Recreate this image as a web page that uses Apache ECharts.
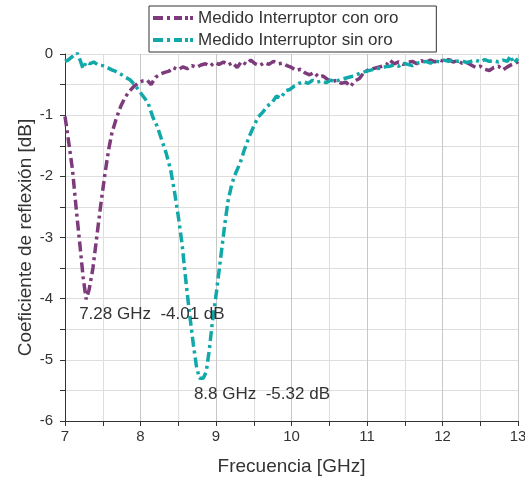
<!DOCTYPE html>
<html>
<head>
<meta charset="utf-8">
<script src="https://cdn.jsdelivr.net/npm/echarts@6/dist/echarts.min.js"></script>
<style>html,body{margin:0;padding:0;background:#fff;}#c{width:525px;height:482px;}</style>
</head>
<body>
<div id="c"></div>
<script>
// Series names
const seriesNames = ['Medido Interruptor con oro', 'Medido Interruptor sin oro'];
// Axis ticks
const xTicks = [7, 8, 9, 10, 11, 12, 13];
const yTicks = [-6, -5, -4, -3, -2, -1, 0];

// Medido Interruptor con oro
const conOroFreq = [7.00,7.05,7.10,7.15,7.20,7.24,7.28,7.32,7.37,7.42,7.47,7.53,7.58,7.62,7.68,7.74,7.80,7.86,7.92,7.98,8.03,8.09,8.14,8.20,8.26,8.32,8.38,8.43,8.50,8.56,8.62,8.68,8.74,8.80,8.86,8.92,8.98,9.04,9.10,9.16,9.22,9.28,9.34,9.40,9.46,9.52,9.58,9.64,9.70,9.76,9.82,9.88,9.94,10.00,10.06,10.12,10.18,10.24,10.30,10.36,10.42,10.48,10.54,10.60,10.66,10.72,10.78,10.84,10.90,10.96,11.02,11.08,11.14,11.20,11.26,11.30,11.36,11.42,11.48,11.54,11.60,11.66,11.72,11.78,11.84,11.90,11.96,12.02,12.08,12.14,12.20,12.26,12.32,12.38,12.44,12.50,12.56,12.62,12.68,12.74,12.80,12.86,12.92,12.98,13.00];
const conOroDb = [-1.02,-1.45,-1.90,-2.55,-3.15,-3.65,-4.01,-3.85,-3.50,-3.00,-2.50,-1.95,-1.55,-1.30,-1.05,-0.85,-0.70,-0.60,-0.52,-0.47,-0.44,-0.43,-0.50,-0.38,-0.33,-0.30,-0.28,-0.22,-0.26,-0.21,-0.24,-0.19,-0.22,-0.18,-0.16,-0.20,-0.14,-0.17,-0.13,-0.18,-0.14,-0.22,-0.12,-0.17,-0.10,-0.16,-0.19,-0.14,-0.17,-0.12,-0.16,-0.15,-0.19,-0.22,-0.27,-0.25,-0.31,-0.34,-0.30,-0.38,-0.36,-0.42,-0.45,-0.43,-0.48,-0.46,-0.53,-0.44,-0.40,-0.30,-0.26,-0.24,-0.22,-0.20,-0.17,-0.10,-0.16,-0.13,-0.17,-0.14,-0.12,-0.16,-0.11,-0.14,-0.10,-0.13,-0.10,-0.12,-0.09,-0.13,-0.11,-0.15,-0.14,-0.18,-0.22,-0.20,-0.25,-0.27,-0.22,-0.20,-0.26,-0.21,-0.17,-0.14,-0.12];

// Medido Interruptor sin oro
const sinOroFreq = [7.00,7.04,7.08,7.12,7.16,7.20,7.24,7.28,7.33,7.38,7.44,7.50,7.56,7.62,7.68,7.74,7.80,7.86,7.92,7.98,8.04,8.10,8.16,8.22,8.28,8.34,8.40,8.45,8.50,8.55,8.60,8.65,8.70,8.74,8.78,8.80,8.83,8.87,8.91,8.95,9.00,9.04,9.08,9.12,9.16,9.21,9.26,9.32,9.38,9.44,9.50,9.56,9.62,9.68,9.74,9.80,9.86,9.92,9.98,10.04,10.10,10.16,10.22,10.28,10.34,10.40,10.46,10.52,10.58,10.64,10.70,10.76,10.82,10.88,10.94,11.00,11.06,11.12,11.18,11.24,11.30,11.36,11.42,11.48,11.54,11.60,11.66,11.72,11.78,11.84,11.90,11.96,12.02,12.08,12.14,12.20,12.26,12.32,12.38,12.44,12.50,12.56,12.62,12.68,12.74,12.80,12.86,12.90,12.94,12.98,13.00];
const sinOroDb = [-0.12,-0.10,-0.06,-0.02,0.02,-0.10,-0.24,-0.13,-0.16,-0.13,-0.18,-0.19,-0.22,-0.26,-0.29,-0.33,-0.38,-0.42,-0.50,-0.60,-0.70,-0.80,-1.02,-1.18,-1.40,-1.62,-1.90,-2.25,-2.65,-3.10,-3.70,-4.25,-4.75,-5.10,-5.30,-5.32,-5.30,-5.20,-4.85,-4.40,-3.95,-3.55,-3.15,-2.75,-2.40,-2.12,-1.95,-1.78,-1.55,-1.35,-1.18,-1.03,-0.95,-0.85,-0.80,-0.69,-0.72,-0.60,-0.58,-0.52,-0.48,-0.45,-0.48,-0.43,-0.46,-0.44,-0.47,-0.43,-0.45,-0.42,-0.40,-0.38,-0.36,-0.33,-0.30,-0.28,-0.26,-0.24,-0.23,-0.21,-0.20,-0.18,-0.20,-0.15,-0.17,-0.19,-0.15,-0.14,-0.12,-0.15,-0.11,-0.13,-0.10,-0.12,-0.09,-0.12,-0.11,-0.14,-0.12,-0.10,-0.13,-0.09,-0.12,-0.11,-0.13,-0.10,-0.12,-0.03,-0.15,-0.10,-0.08];

// Annotated minima
const minConOro = [7.28, -4.01];
const minSinOro = [8.8, -5.32];
const minConLabel = '7.28 GHz  -4.01 dB';
const minSinLabel = '8.8 GHz  -5.32 dB';

const colors = ['#7E3B7B', '#10A8A8'];
const font = 'Liberation Sans, Arial, sans-serif';
const dashPattern = [10, 4, 3, 4];
// dash-dot legend glyph (40 x 4)
const legendGlyph = 'path://M0,0h10v4h-10z M14,0h3v4h-3z M21,0h8v4h-8z M32,0h3v4h-3z M37,0h3v4h-3z';

function pairs(xs, ys) { return xs.map((x, i) => [x, ys[i]]); }

const chart = echarts.init(document.getElementById('c'), null, {renderer: 'canvas'});
chart.setOption({
  animation: false,
  backgroundColor: '#fff',
  textStyle: {fontFamily: font},
  legend: {
    orient: 'vertical',
    left: 149, top: 6,
    padding: [3, 38, 3, 4],
    itemWidth: 40, itemHeight: 4, itemGap: 4,
    symbolKeepAspect: false,
    borderColor: '#333', borderWidth: 1,
    textStyle: {fontSize: 17, color: '#333', fontFamily: font, lineHeight: 18, height: 18},
    data: [
      {name: seriesNames[0], icon: legendGlyph, itemStyle: {color: colors[0]}},
      {name: seriesNames[1], icon: legendGlyph, itemStyle: {color: colors[1]}}
    ]
  },
  grid: {left: 65, right: 7, top: 54, bottom: 61, containLabel: false, outerBoundsMode: 'none'},
  xAxis: {
    type: 'value', min: xTicks[0], max: xTicks[xTicks.length - 1], interval: 1,
    name: 'Frecuencia [GHz]', nameLocation: 'middle', nameGap: 36, nameMoveOverlap: false,
    nameTextStyle: {fontSize: 19, color: '#333', fontFamily: font},
    axisLine: {show: true, onZero: false, lineStyle: {color: '#333', width: 1}},
    axisTick: {show: true, length: 5, lineStyle: {color: '#333'}},
    minorTick: {show: true, splitNumber: 2, length: 5, lineStyle: {color: '#333'}},
    axisLabel: {fontSize: 15, color: '#333', margin: 8, hideOverlap: false, showMaxLabel: true, showMinLabel: true},
    splitLine: {show: true, lineStyle: {color: '#c8c8c8', width: 1}},
    minorSplitLine: {show: true, lineStyle: {color: '#dedede', width: 1}}
  },
  yAxis: {
    type: 'value', min: yTicks[0], max: yTicks[yTicks.length - 1], interval: 1,
    name: 'Coeficiente de reflexión [dB]', nameLocation: 'middle', nameGap: 30, nameMoveOverlap: false,
    nameTextStyle: {fontSize: 19, color: '#333', fontFamily: font},
    axisLine: {show: true, onZero: false, lineStyle: {color: '#333', width: 1}},
    axisTick: {show: true, length: 5, lineStyle: {color: '#333'}},
    minorTick: {show: true, splitNumber: 2, length: 5, lineStyle: {color: '#333'}},
    axisLabel: {fontSize: 15, color: '#333', margin: 12},
    splitLine: {show: true, lineStyle: {color: '#dedede', width: 1}},
    minorSplitLine: {show: true, lineStyle: {color: '#dedede', width: 1}}
  },
  series: [
    {
      name: seriesNames[0], type: 'line', data: pairs(conOroFreq, conOroDb),
      showSymbol: false, symbol: 'none', color: colors[0],
      lineStyle: {color: colors[0], width: 3.5, type: dashPattern},
      markPoint: {
        symbol: 'circle', symbolSize: 0,
        data: [{coord: minConOro}],
        label: {show: true, formatter: minConLabel, position: 'right', offset: [-12, 15],
          fontSize: 17, color: '#333', fontFamily: font}
      }
    },
    {
      name: seriesNames[1], type: 'line', data: pairs(sinOroFreq, sinOroDb),
      showSymbol: false, symbol: 'none', color: colors[1],
      lineStyle: {color: colors[1], width: 3.5, type: dashPattern},
      markPoint: {
        symbol: 'circle', symbolSize: 0,
        data: [{coord: minSinOro}],
        label: {show: true, formatter: minSinLabel, position: 'right', offset: [-12, 15],
          fontSize: 17, color: '#333', fontFamily: font}
      }
    }
  ]
});
</script>
</body>
</html>
